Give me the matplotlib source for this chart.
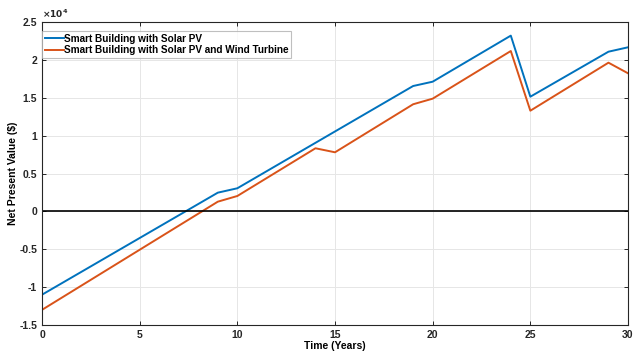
import numpy as np
import matplotlib.pyplot as plt
from matplotlib.ticker import FuncFormatter, MultipleLocator

plt.rcParams['font.family'] = ['Liberation Sans', 'DejaVu Sans']
plt.rcParams['font.weight'] = 'bold'

# years with kinks and NPV values in $
years_pv = [0, 9, 10, 19, 20, 24, 25, 29, 30]
npv_pv = [-11000, 2470, 3050, 16550, 17120, 23200, 15140, 21080, 21660]

years_wind = [0, 9, 10, 14, 15, 19, 20, 24, 25, 29, 30]
npv_wind = [-13000, 1280, 2030, 8330, 7800, 14140, 14880, 21170, 13290, 19630, 18230]

labels = ['Smart Building with Solar PV', 'Smart Building with Solar PV and Wind Turbine']

fig = plt.figure(figsize=(6.35, 3.55), dpi=100)
ax = fig.add_axes([42/635, 1 - 325/355, 586/635, 303/355])

ax.plot(years_pv, npv_pv, color='#0072BD', lw=1.4, label=labels[0])
ax.plot(years_wind, npv_wind, color='#D95319', lw=1.4, label=labels[1])
ax.axhline(0, color='black', lw=1.2)

ax.set_xlim(0, 30)
ax.set_ylim(-15000, 25000)
ax.xaxis.set_major_locator(MultipleLocator(5))
ax.yaxis.set_major_locator(MultipleLocator(5000))
ax.yaxis.set_major_formatter(FuncFormatter(lambda v, p: '%g' % (v / 1e4)))
ax.text(0.0, 1.005, r'$\times10^4$', transform=ax.transAxes, fontsize=6.5,
        ha='left', va='bottom', color='#262626')

ax.grid(True, color='#e6e6e6', lw=0.7)
ax.set_axisbelow(True)
ax.tick_params(direction='in', top=True, right=True, labelsize=7.5, length=3,
               colors='#262626', width=0.7)
for s in ax.spines.values():
    s.set_color('#262626')
    s.set_linewidth(0.8)

ax.set_xlabel('Time (Years)', fontsize=7.5, fontweight='bold', labelpad=1)
ax.set_ylabel(r'Net Present Value (\$)', fontsize=7.5, fontweight='bold', labelpad=1)

leg = ax.legend(loc='upper left', bbox_to_anchor=(0, 1 - 9/303), fontsize=7.2,
                frameon=True, fancybox=False, edgecolor='#b0b0b0', borderpad=0.25,
                handlelength=1.9, handletextpad=0.05, labelspacing=0.15,
                borderaxespad=0)
leg.get_frame().set_linewidth(0.8)

fig.savefig('out.png', dpi=100)
